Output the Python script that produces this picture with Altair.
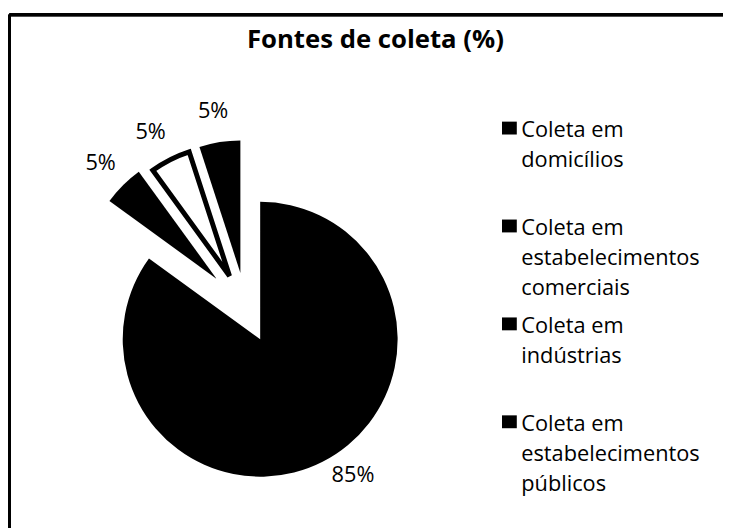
import json
import altair as alt
import pandas as pd

# ---- data ----
titulo = "Fontes de coleta (%)"
categorias = [
    "Coleta em domicílios",
    "Coleta em estabelecimentos comerciais",
    "Coleta em indústrias",
    "Coleta em estabelecimentos públicos",
]
valores = [85, 5, 5, 5]
linhas_legenda = [
    ["Coleta em", "domicílios", ""],
    ["Coleta em", "estabelecimentos", "comerciais"],
    ["Coleta em", "indústrias", ""],
    ["Coleta em", "estabelecimentos", "públicos"],
]

# ---- styles (exploded slice centres, radii, fills) ----
FONT = "Open Sans"
estilos = [
    dict(cx=255, cy=332, r=139, fill="black", stroke="black", sw=0, dtheta=-0.13),
    dict(cx=211, cy=271, r=134, fill="black", stroke="black", sw=0, dtheta=0.0),
    dict(cx=224, cy=268, r=132, fill="white", stroke="black", sw=5, dtheta=-0.03),
    dict(cx=235, cy=265, r=134, fill="black", stroke="black", sw=0, dtheta=-0.01),
]
RAIO_ROTULO = 166

df = pd.DataFrame({"categoria": categorias, "valor": valores, "ordem": list(range(len(categorias)))})
total = sum(valores)

base = alt.Chart(df).transform_window(
    acum="sum(valor)", sort=[alt.SortField("ordem")], frame=[None, 0]
).transform_calculate(
    inicio="datum.acum - datum.valor",
    fim="datum.acum",
    meio="datum.acum - datum.valor / 2",
    rotulo="datum.valor + '%'",
)
theta_scale = alt.Scale(domain=[0, total])

expr = "[]"
for cat, linhas in reversed(list(zip(categorias, linhas_legenda))):
    expr = f"datum.label == {json.dumps(cat, ensure_ascii=False)} ? {json.dumps(linhas, ensure_ascii=False)} : ({expr})"

legenda = alt.Legend(
    orient="none", legendX=496, legendY=100, padding=0,
    symbolType="M-1.07,0.14H1.07V2H-1.07Z", symbolSize=196,
    symbolFillColor="black", symbolStrokeWidth=0,
    labelFont=FONT, labelFontSize=22, labelColor="black", labelLimit=400,
    labelBaseline="top", labelOffset=1, rowPadding=7, labelExpr=expr,
)

camadas = []
for i, (cat, st) in enumerate(zip(categorias, estilos)):
    enc = dict(
        theta=alt.Theta("inicio:Q", scale=theta_scale),
        theta2="fim:Q",
        x=alt.value(st["cx"]),
        y=alt.value(st["cy"]),
    )
    if i == 0:
        enc["color"] = alt.Color(
            "categoria:N", title=None,
            scale=alt.Scale(domain=categorias, range=["black"] * len(categorias)),
            legend=legenda,
        )
    arco = base.transform_filter(alt.datum.categoria == cat).mark_arc(
        radius=st["r"], fill=st["fill"], stroke=st["stroke"],
        strokeWidth=st["sw"], strokeJoin="miter",
    ).encode(**enc)
    texto = base.transform_filter(alt.datum.categoria == cat).mark_text(
        radius=RAIO_ROTULO, font=FONT, fontSize=22, color="black",
        thetaOffset=st["dtheta"],
    ).encode(
        theta=alt.Theta("meio:Q", scale=theta_scale),
        text="rotulo:N",
        x=alt.value(st["cx"]),
        y=alt.value(st["cy"]),
    )
    camadas += [arco, texto]

borda_topo = alt.Chart(df).mark_rule(color="black", strokeWidth=3).encode(
    x=alt.value(1.5), x2=alt.value(723), y=alt.value(4)
)
borda_esq = alt.Chart(df).mark_rule(color="black", strokeWidth=3).encode(
    x=alt.value(1.5), y=alt.value(4), y2=alt.value(523)
)

chart = alt.layer(*camadas, borda_topo, borda_esq).properties(
    width=723, height=523,
    autosize=alt.AutoSizeParams(type="none"),
    padding=0,
    background="white",
    title=alt.TitleParams(
        text=titulo, font=FONT, fontSize=26, fontWeight="bold", color="black",
        anchor="middle", frame="group", offset=-64, baseline="alphabetic", dx=10,
    ),
).configure(style={"guide-label": {"lineHeight": 30}}).configure_view(strokeWidth=0)

chart.save("out.html", embed_options={"renderer": "svg", "actions": False})
